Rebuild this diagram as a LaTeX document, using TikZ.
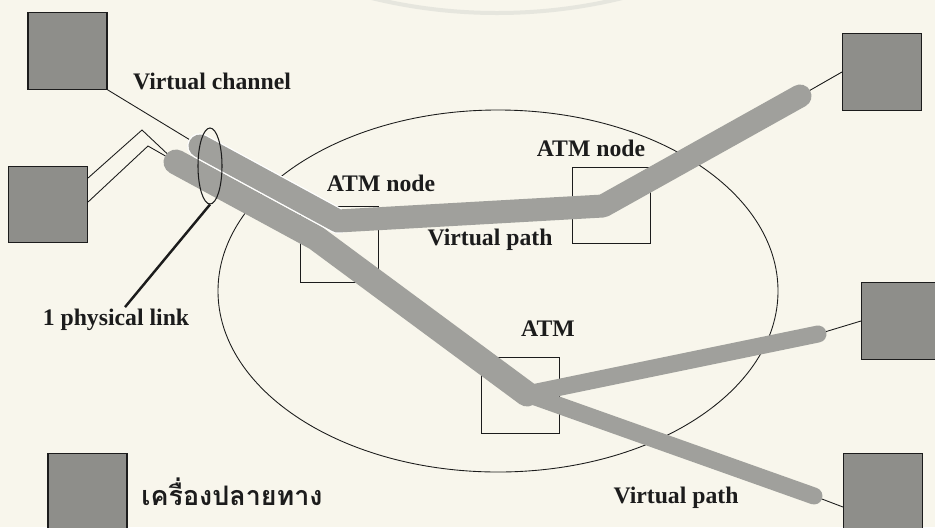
\documentclass[tikz,border=0pt]{standalone}
\usepackage{fontspec}
\setmainfont{Liberation Serif}
\newfontfamily\thaifont[Script=Thai]{Loma}
\usetikzlibrary{shapes.geometric,calc}
\definecolor{paper}{HTML}{F8F6EC}
\definecolor{termgray}{HTML}{8E8E8A}
\definecolor{pathgray}{HTML}{A0A09C}
\definecolor{wmark}{HTML}{E6E6DE}
\definecolor{ink}{HTML}{1C1C1C}

\begin{document}
\begin{tikzpicture}[x=0.2mm,y=-0.2mm,
    term/.style={draw=ink,fill=termgray,line width=0.6pt,minimum width=15.8mm,minimum height=15.3mm,inner sep=0pt},
    atmbox/.style={draw=ink,line width=0.5pt,minimum width=15.6mm,minimum height=15.2mm,inner sep=0pt},
    lbl/.style={text=ink,font=\bfseries\fontsize{13.5}{16}\selectfont,inner sep=1pt},
    vpath/.style={pathgray,line width=4.6mm,line cap=round,line join=round},
    vbranch/.style={pathgray,line width=3.4mm,line cap=round,line join=round},
    wire/.style={ink,line width=0.5pt}]
  \useasboundingbox (0,0) rectangle (935,527);
  \fill[paper] (0,0) rectangle (935,527);
  \begin{scope}
    \clip (0,0) rectangle (935,527);
    \draw[wmark,line width=0.8mm] (497,-515) circle (528);
  \end{scope}
  \node[draw=ink,ellipse,line width=0.5pt,minimum width=112mm,minimum height=72.4mm] (atmnet) at (498,291) {};
  \node[atmbox] (boxA) at (339,244.5) {};
  \node[atmbox] (boxB) at (611,205) {};
  \node[atmbox] (boxC) at (520.5,395.5) {};
  \node[term] (t1) at (67.5,51) {};
  \node[term] (t2) at (48,204.5) {};
  \node[term] (t3) at (882,72) {};
  \node[term] (t4) at (901,321) {};
  \node[term] (t5) at (883,492) {};
  \node[term] (t6) at (87.5,491.5) {};
  \coordinate (vc0) at (200,146);
  \coordinate (vc1) at (338,221);
  \coordinate (vc2) at (603,206);
  \coordinate (vc3) at (800,96);
  \coordinate (vl0) at (176,162);
  \coordinate (vl1) at (316,238);
  \coordinate (vl2) at (527,394);
  \coordinate (vl3) at (818,334);
  \coordinate (vl4) at (814,496);
  \draw[wire] (t1.south east) -- (vc0);
  \draw[wire] ([yshift=5.3mm]t2.east) -- (142,130) -- (vl0);
  \draw[wire] ([yshift=0.5mm]t2.east) -- (148,146) -- (vl0);
  \draw[wire] (t3.west) -- (vc3);
  \draw[wire] (t4.west) -- (vl3);
  \draw[wire] ([yshift=-3mm]t5.west) -- (vl4);
  \draw[vbranch] (vl2) -- (vl3);
  \draw[vbranch] (vl2) -- (vl4);
  \draw[vpath,line width=5mm] (vl0) -- (vl1) -- (vl2);
  \draw[white,line width=5.1mm,line cap=round] (vc0) -- (vc1);
  \draw[vpath] (vc0) -- (vc1) -- (vc2) -- (vc3);
  \node[draw=ink,ellipse,line width=0.6pt,minimum width=4.8mm,minimum height=15.2mm,inner sep=0pt] (pl) at (210,166) {};
  \node[lbl] (vclbl) at (212,81) {Virtual channel};
  \node[lbl] (atmAlbl) at (381,183) {ATM node};
  \node[lbl] (atmBlbl) at (591,148) {ATM node};
  \node[lbl] (vpup) at (490,240) {Virtual path};
  \node[lbl] (atmClbl) at (548,329) {ATM};
  \node[lbl] (vplow) at (676,498) {Virtual path};
  \node[lbl] (pllbl) at (116,320) {1 physical link};
  \node[text=ink,font=\thaifont\bfseries\fontsize{15.3}{18}\selectfont,inner sep=1pt] (legend) at (232,492) {เครื่องปลายทาง};
  \draw[ink,line width=1.4pt] ([xshift=1.8mm]pllbl.north) -- (pl.south);
\end{tikzpicture}
\end{document}
